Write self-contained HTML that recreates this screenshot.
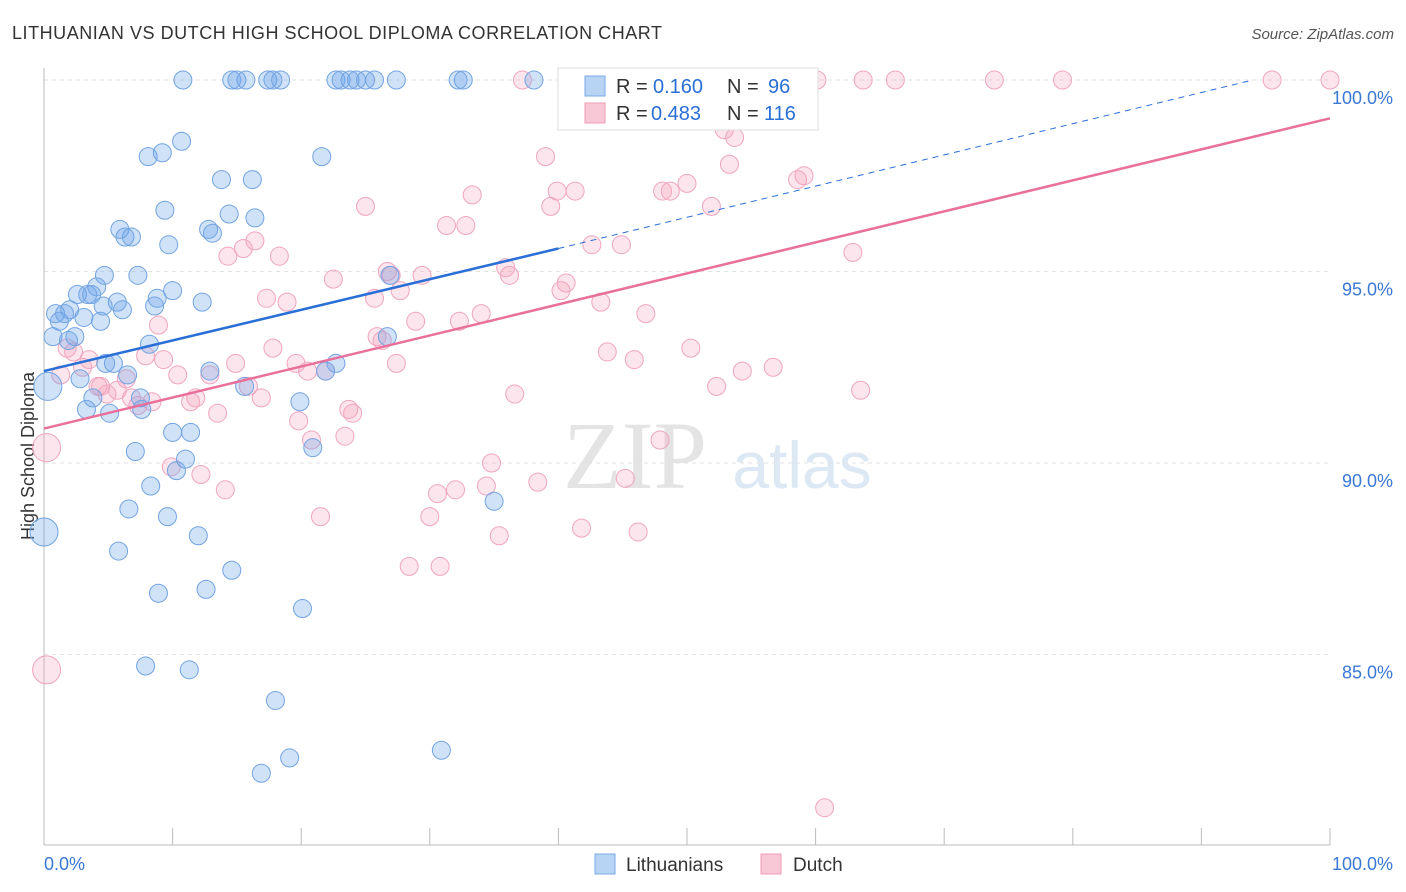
<!DOCTYPE html>
<html><head><meta charset="utf-8"><style>
body{margin:0;background:#fff;font-family:"Liberation Sans",sans-serif;}
#wrap{position:relative;width:1406px;height:892px;overflow:hidden;}
</style></head><body>
<div id="wrap">
<svg id="svg" width="1406" height="892" xmlns="http://www.w3.org/2000/svg">
<text x="12" y="39" font-size="18" fill="#333" textLength="650" lengthAdjust="spacing">LITHUANIAN VS DUTCH HIGH SCHOOL DIPLOMA CORRELATION CHART</text>
<text x="1394" y="39" font-size="15" fill="#555" font-style="italic" text-anchor="end">Source: ZipAtlas.com</text>
<text x="635" y="488" font-size="96" fill="#e4e4e4" font-family="Liberation Serif,serif" text-anchor="middle">ZIP</text>
<text x="802" y="488" font-size="66" fill="#dde8f5" text-anchor="middle">atlas</text>
<text transform="translate(34,456) rotate(-90)" font-size="18" fill="#333" text-anchor="middle">High School Diploma</text>
<g id="grid"></g><g id="pts"></g><g id="lines"></g>
<g>
<rect x="558" y="68" width="260" height="62" fill="#fff" stroke="#ddd"/>
<rect x="585" y="76" width="20" height="20" fill="#b8d4f5" stroke="#7aaae6"/>
<rect x="585" y="103" width="20" height="20" fill="#f9c8d6" stroke="#ee9cb8"/>
<text x="616" y="93" font-size="20" fill="#333">R =</text>
<text x="653" y="93" font-size="20" fill="#2a6fd6">0.160</text>
<text x="727" y="93" font-size="20" fill="#333">N =</text>
<text x="768" y="93" font-size="20" fill="#2a6fd6">96</text>
<text x="616" y="120" font-size="20" fill="#333">R =</text>
<text x="651" y="120" font-size="20" fill="#2a6fd6">0.483</text>
<text x="727" y="120" font-size="20" fill="#333">N =</text>
<text x="764" y="120" font-size="20" fill="#2a6fd6">116</text>
</g>
<g>
<rect x="595" y="854" width="20" height="20" fill="#b8d4f5" stroke="#7aaae6"/>
<text x="626" y="871" font-size="19" fill="#333">Lithuanians</text>
<rect x="761" y="854" width="20" height="20" fill="#f9c8d6" stroke="#ee9cb8"/>
<text x="793" y="871" font-size="19" fill="#333">Dutch</text>
</g>
</svg>
</div>
<script>
const xTicks=[0,10,20,30,40,50,60,70,80,90,100];
const yTicks=[85,90,95,100];
const yTickLabels=["85.0%","90.0%","95.0%","100.0%"];
const xLabels=["0.0%","100.0%"];
const blue=[[10.8,100],[14.6,100],[15.0,100],[15.7,100],[17.4,100],[17.8,100],[18.4,100],[22.7,100],[23.1,100],[23.8,100],[24.3,100],[25.0,100],[25.7,100],[27.4,100],[32.2,100],[32.6,100],[38.1,100],
[10.7,98.4],[8.1,98.0],[9.2,98.1],[21.6,98.0],[13.8,97.4],[16.2,97.4],[9.4,96.6],[14.4,96.5],[16.4,96.4],[5.9,96.1],[6.3,95.9],[6.8,95.9],[12.8,96.1],[13.1,96.0],[9.7,95.7],[4.7,94.9],[7.3,94.9],[2.6,94.4],[3.4,94.4],[4.1,94.6],[3.7,94.4],[10.0,94.5],[8.8,94.3],[12.3,94.2],[5.7,94.2],[6.1,94.0],[8.6,94.1],[4.6,94.1],[0.9,93.9],[1.6,93.9],[2.0,94.0],[1.2,93.7],[3.1,93.8],[4.4,93.7],[2.4,93.3],[0.7,93.3],[1.9,93.2],[8.2,93.1],[5.4,92.6],[4.8,92.6],[12.9,92.4],[6.5,92.3],[2.8,92.2],[7.5,91.7],[3.8,91.7],[3.3,91.4],[7.6,91.4],[5.1,91.3],[15.6,92.0],[22.7,92.6],[21.9,92.4],[26.9,94.9],[26.7,93.3],[19.9,91.6],[10.0,90.8],[11.4,90.8],[20.9,90.4],[7.1,90.3],[11.0,90.1],[10.3,89.8],[8.3,89.4],[6.6,88.8],[9.6,88.6],[35.0,89.0],[12.0,88.1],[5.8,87.7],[14.6,87.2],[12.6,86.7],[8.9,86.6],[20.1,86.2],[7.9,84.7],[11.3,84.6],[18.0,83.8],[19.1,82.3],[16.9,81.9],[30.9,82.5]];
const blueBig=[[0.0,88.2],[0.3,92.0]];
const pink=[[37.2,100],[60.1,100],[63.7,100],[66.2,100],[73.9,100],[79.2,100],[95.5,100],[100,100],
[39.0,98.0],[52.9,98.7],[53.7,98.5],[53.3,97.8],[58.6,97.4],[59.1,97.5],[50.0,97.3],[48.1,97.1],[48.7,97.1],[39.9,97.1],[41.3,97.1],[33.3,97.0],[25.0,96.7],[39.4,96.7],[51.9,96.7],[31.3,96.2],[32.8,96.2],[16.4,95.8],[15.5,95.6],[14.3,95.4],[42.6,95.7],[44.9,95.7],[62.9,95.5],[18.3,95.4],[22.5,94.8],[26.7,95.0],[27.0,94.9],[29.4,94.9],[35.9,95.1],[36.2,94.9],[27.7,94.5],[40.6,94.7],[40.2,94.5],[17.3,94.3],[18.9,94.2],[25.7,94.3],[34.0,93.9],[32.3,93.7],[28.9,93.7],[43.3,94.2],[46.8,93.9],[8.9,93.6],[25.9,93.3],[26.3,93.2],[1.8,93.0],[2.3,92.9],[17.8,93.0],[9.3,92.7],[7.9,92.8],[3.5,92.7],[14.9,92.6],[19.6,92.6],[20.5,92.4],[21.9,92.4],[27.4,92.6],[10.4,92.3],[12.9,92.3],[43.8,92.9],[45.9,92.7],[50.3,93.0],[3.0,92.5],[6.4,92.2],[4.4,92.0],[4.2,92.0],[4.9,91.8],[5.7,91.9],[6.8,91.7],[8.4,91.6],[11.8,91.7],[11.4,91.6],[15.9,92.0],[16.9,91.7],[36.6,91.8],[52.3,92.0],[54.3,92.4],[56.7,92.5],[63.5,91.9],[24.0,91.3],[23.7,91.4],[19.8,91.1],[13.5,91.3],[7.3,91.5],[23.4,90.7],[20.8,90.6],[47.9,90.6],[9.9,89.9],[12.2,89.7],[34.8,90.0],[14.1,89.3],[30.6,89.2],[32.0,89.3],[34.4,89.4],[38.4,89.5],[45.2,89.6],[21.5,88.6],[30.0,88.6],[35.4,88.1],[41.8,88.3],[46.2,88.2],[28.4,87.3],[30.8,87.3],[60.7,81.0],[1.3,92.3]];
const pinkBig=[[0.2,90.4],[0.2,84.6]];
const blueLine=[[0,92.4],[40,95.6]];
const blueDash=[[40,95.6],[94,100]];
const pinkLine=[[0,90.9],[100,99.0]];
const NS="http://www.w3.org/2000/svg";
const X=v=>44+v*12.86, Y=v=>80+(100-v)*38.3;
function mk(t,a,p){const e=document.createElementNS(NS,t);for(const k in a)e.setAttribute(k,a[k]);p.appendChild(e);return e;}
const grid=document.getElementById('grid');
yTicks.forEach((t,i)=>{
 const l=mk('line',{x1:44,x2:1330,y1:Y(t),y2:Y(t),stroke:'#e2e2e2','stroke-dasharray':'4,4'},grid);
 
 
 const tx=mk('text',{x:1393,y:Y(t)+24,'font-size':18,fill:'#3a78d4','text-anchor':'end'},grid);tx.textContent=yTickLabels[i];
 
 
});
const ax=mk('line',{x1:44,x2:1330,y1:845,y2:845,stroke:'#bbb'},grid);


const ay=mk('line',{x1:44,x2:44,y1:68,y2:845,stroke:'#bbb'},grid);


xTicks.forEach(t=>{const l=mk('line',{x1:X(t),x2:X(t),y1:828,y2:845,stroke:'#bbb'},grid);
 
 });
[[0,'start'],[100,'end']].forEach((d,i)=>{const tx=mk('text',{x:X(d[0])+(i?63:0),y:870,'font-size':18,fill:'#3a78d4','text-anchor':d[1]},grid);tx.textContent=xLabels[i];
 
 });
const pts=document.getElementById('pts');
function dots(arr,r,fill,stroke,name){arr.forEach(p=>{const c=mk('circle',{cx:X(p[0]),cy:Y(p[1]),r:r,fill:fill,stroke:stroke,'stroke-width':1},pts);
 
 });}
dots(pink,9,'rgba(244,160,188,0.28)','#f0a5bf','dutch-point');
dots(pinkBig,14,'rgba(244,160,188,0.28)','#f0a5bf','dutch-point');
dots(blue,9,'rgba(110,165,232,0.32)','#72a4e2','lithuanian-point');
dots(blueBig,14,'rgba(110,165,232,0.32)','#72a4e2','lithuanian-point');
const lines=document.getElementById('lines');
function ln(a,col,w,dash,name){const l=mk('line',{x1:X(a[0][0]),y1:Y(a[0][1]),x2:X(a[1][0]),y2:Y(a[1][1]),stroke:col,'stroke-width':w},lines);if(dash)l.setAttribute('stroke-dasharray',dash);
 
 }
ln(blueLine,'#2a6fd6',2.5,null,'lithuanian-trend-line');
ln(blueDash,'#2a6fd6',1,'6,5','lithuanian-trend-extension');
ln(pinkLine,'#e8709a',2.5,null,'dutch-trend-line');
</script>
</body></html>
